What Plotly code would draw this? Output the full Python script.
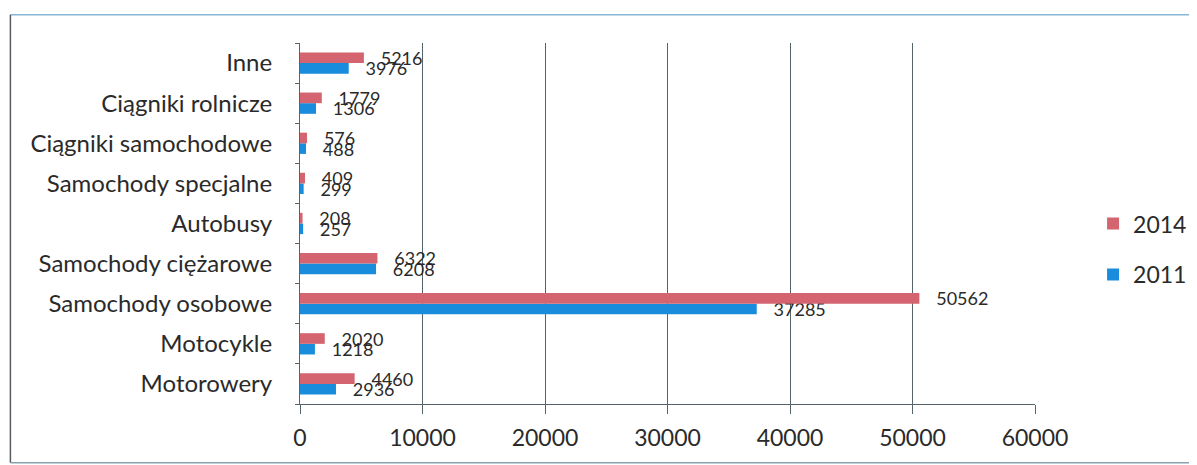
import plotly.graph_objects as go

categories = [
    "Motorowery",
    "Motocykle",
    "Samochody osobowe",
    "Samochody ciężarowe",
    "Autobusy",
    "Samochody specjalne",
    "Ciągniki samochodowe",
    "Ciągniki rolnicze",
    "Inne",
]
values_2011 = [2936, 1218, 37285, 6208, 257, 299, 488, 1306, 3976]
values_2014 = [4460, 2020, 50562, 6322, 208, 409, 576, 1779, 5216]
x_ticks = [0, 10000, 20000, 30000, 40000, 50000, 60000]

FONT = "Lato"
GRID = "#56646a"
PAD = "\u00a0\u00a0\u00a0"

fig = go.Figure()
# 2011 first so it sits below 2014 inside each category; legendrank puts 2014 on top
for name, vals, color, rank in [
    ("2011", values_2011, "#1a8cdc", 2),
    ("2014", values_2014, "#d4646f", 1),
]:
    fig.add_trace(
        go.Bar(
            y=categories,
            x=vals,
            name=name,
            legendgroup=name,
            legendrank=rank,
            orientation="h",
            marker={"color": color, "line": {"width": 0}},
            text=[PAD + str(v) for v in vals],
            textposition="outside",
            constraintext="none",
            cliponaxis=False,
            textfont={"family": FONT, "size": 18, "color": "#2a2a2a"},
        )
    )

fig.update_layout(
    width=1197,
    height=465,
    barmode="group",
    bargap=0.47,
    bargroupgap=0,
    plot_bgcolor="white",
    paper_bgcolor="white",
    margin={"l": 292, "r": 170, "t": 35, "b": 69, "autoexpand": False},
    font={"family": FONT, "color": "#2a2a2a"},
    legend={
        "x": 1.079,
        "y": 0.429,
        "xanchor": "left",
        "yanchor": "middle",
        "traceorder": "grouped",
        "font": {"size": 23, "family": FONT},
        "itemwidth": 30,
        "tracegroupgap": 18,
    },
    xaxis={
        "range": [0, 60000],
        "tickvals": x_ticks,
        "ticktext": [str(t) for t in x_ticks],
        "showgrid": True,
        "gridcolor": GRID,
        "gridwidth": 1,
        "zeroline": False,
        "showline": True,
        "linecolor": GRID,
        "ticks": "outside",
        "ticklen": 9,
        "tickcolor": GRID,
        "tickfont": {"size": 23},
        "ticklabelstandoff": 4,
    },
    yaxis={
        "showline": True,
        "linecolor": GRID,
        "ticks": "outside",
        "tickson": "boundaries",
        "ticklen": 4,
        "tickcolor": GRID,
        "tickfont": {"size": 24},
        "ticklabelstandoff": 22,
        "showgrid": False,
    },
    shapes=[
        {"type": "line", "xref": "paper", "yref": "paper",
         "x0": -0.394, "x1": 1.231, "y0": 1.078, "y1": 1.078,
         "line": {"color": "#86b8d6", "width": 1.5}},
        {"type": "line", "xref": "paper", "yref": "paper",
         "x0": -0.394, "x1": -0.394, "y0": 1.078, "y1": -0.163,
         "line": {"color": "#555b60", "width": 1.5}},
        {"type": "line", "xref": "paper", "yref": "paper",
         "x0": -0.394, "x1": 1.231, "y0": -0.163, "y1": -0.163,
         "line": {"color": "#8aa2b0", "width": 1.5}},
    ],
)

fig.write_html("out.html")
